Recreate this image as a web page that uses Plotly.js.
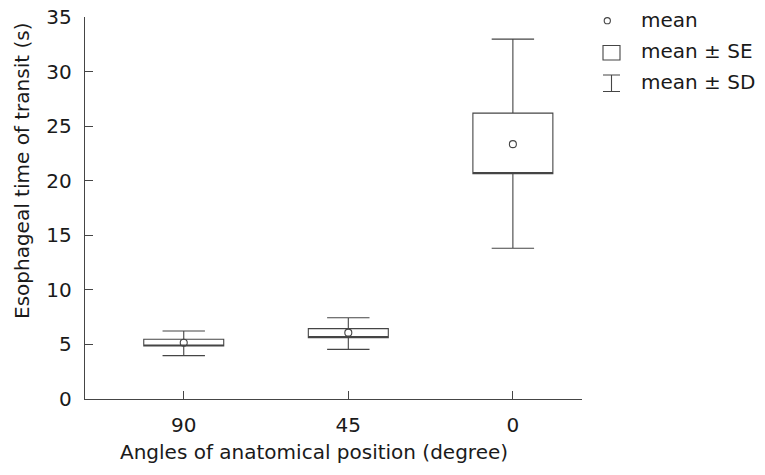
<!DOCTYPE html>
<html>
<head>
<meta charset="utf-8">
<script src="https://cdn.plot.ly/plotly-3.0.1.min.js"></script>
<style>html,body{margin:0;padding:0;background:#fff;}#chart{width:765px;height:475px;}</style>
</head>
<body>
<div id="chart"></div>
<script>
// Data
const categories = ["90", "45", "0"];
const means  = [5.16, 6.08, 23.35];
const seLow  = [4.86, 5.62, 20.65];
const seHigh = [5.47, 6.45, 26.19];
const sdLow  = [3.97, 4.55, 13.81];
const sdHigh = [6.23, 7.45, 32.97];
const yTicks = [0, 5, 10, 15, 20, 25, 30, 35];
const legendLabels = ["mean", "mean ± SE", "mean ± SD"];

const W = 765, H = 475;
const M = {l: 85, r: 183, t: 17, b: 76};
const PW = W - M.l - M.r, PH = H - M.t - M.b;
const px = x => (x - M.l) / PW;
const py = y => (H - M.b - y) / PH;

const lineCol = '#454545';
const textCol = '#1a1a1a';
const FONT = 'DejaVu Sans, Verdana, sans-serif';
const FS = 20;

const traces = [
  {
    type: 'box',
    x: categories,
    q1: seLow,
    median: seLow,
    q3: seHigh,
    lowerfence: sdLow,
    upperfence: sdHigh,
    boxpoints: false,
    boxmean: false,
    width: 0.486,
    whiskerwidth: 0.53,
    fillcolor: 'rgba(255,255,255,0)',
    line: {color: lineCol, width: 1.1},
    hoverinfo: 'skip',
    showlegend: false
  },
  {
    type: 'scatter',
    mode: 'markers',
    x: categories,
    y: means,
    marker: {symbol: 'circle-open', size: 7, color: lineCol, line: {width: 1.1, color: lineCol}},
    hoverinfo: 'skip',
    showlegend: false
  }
];

const shapes = [
  {type: 'rect', xref: 'paper', yref: 'paper', x0: px(603), x1: px(620), y0: py(60), y1: py(45.5), line: {color: lineCol, width: 1.1}},
  {type: 'path', xref: 'paper', yref: 'paper',
   path: `M ${px(603)} ${py(75)} L ${px(620)} ${py(75)} M ${px(611.5)} ${py(75)} L ${px(611.5)} ${py(91.5)} M ${px(603)} ${py(91.5)} L ${px(620)} ${py(91.5)}`,
   line: {color: lineCol, width: 1.1}},
  {type: 'circle', xref: 'paper', yref: 'paper', x0: px(604.2), x1: px(610.4), y0: py(23.8), y1: py(17.6), line: {color: lineCol, width: 1.1}}
];

const annotations = [
  {text: 'Esophageal time of transit (s)', xref: 'paper', yref: 'paper', x: px(22), y: py(171), textangle: -90,
   showarrow: false, xanchor: 'center', yanchor: 'middle', font: {family: FONT, size: FS, color: textCol}},
  {text: 'Angles of anatomical position (degree)', xref: 'paper', yref: 'paper', x: px(314), y: py(452),
   showarrow: false, xanchor: 'center', yanchor: 'middle', font: {family: FONT, size: FS, color: textCol}},
  {text: legendLabels[0], xref: 'paper', yref: 'paper', x: px(639), y: py(20), showarrow: false, xanchor: 'left', yanchor: 'middle', font: {family: FONT, size: FS, color: textCol}},
  {text: legendLabels[1], xref: 'paper', yref: 'paper', x: px(639), y: py(51), showarrow: false, xanchor: 'left', yanchor: 'middle', font: {family: FONT, size: FS, color: textCol}},
  {text: legendLabels[2], xref: 'paper', yref: 'paper', x: px(639), y: py(82), showarrow: false, xanchor: 'left', yanchor: 'middle', font: {family: FONT, size: FS, color: textCol}}
];

const layout = {
  width: W, height: H,
  margin: M,
  paper_bgcolor: '#fff', plot_bgcolor: '#fff',
  font: {family: FONT, size: FS, color: textCol},
  showlegend: false,
  xaxis: {
    type: 'category',
    range: [-0.6, 2.42],
    showgrid: false, zeroline: false,
    showline: true, linecolor: lineCol, linewidth: 1.3,
    ticks: 'inside', ticklen: 8, tickwidth: 1.2, tickcolor: lineCol,
    ticklabelstandoff: 8,
    tickfont: {family: FONT, size: FS, color: textCol}
  },
  yaxis: {
    range: [0, 35],
    tickvals: yTicks,
    showgrid: false, zeroline: false,
    showline: true, linecolor: lineCol, linewidth: 1.3,
    ticks: 'inside', ticklen: 8, tickwidth: 1.2, tickcolor: lineCol,
    ticklabelstandoff: 8,
    tickfont: {family: FONT, size: FS, color: textCol}
  },
  shapes: shapes,
  annotations: annotations
};

Plotly.newPlot('chart', traces, layout, {staticPlot: true, displayModeBar: false});
</script>
</body>
</html>
